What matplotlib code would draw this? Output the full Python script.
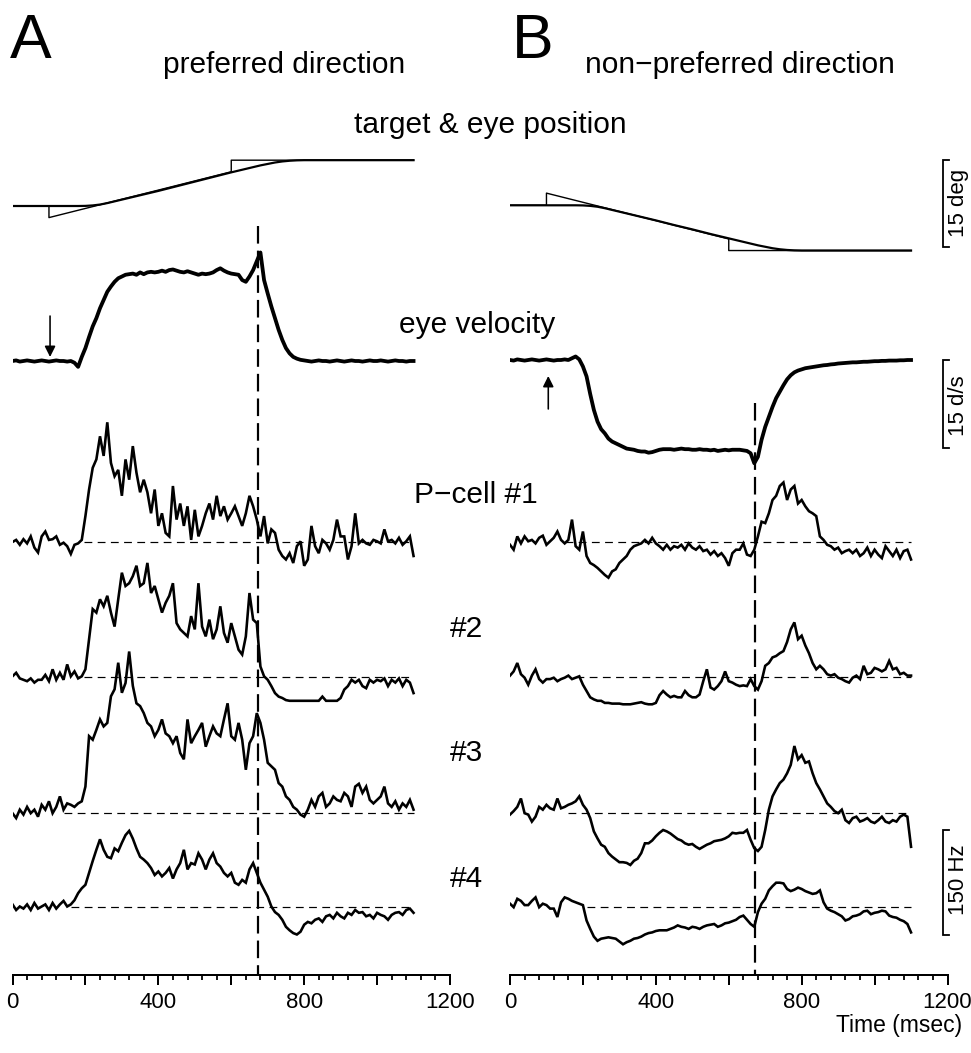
import numpy as np
import matplotlib
matplotlib.use('Agg')
from matplotlib import pyplot as plt

plt.rcParams['font.family'] = ['Liberation Sans', 'DejaVu Sans']

# sample times of the recorded traces (ms)
t = np.arange(0, 1101, 10)

# target and eye position (deg), as breakpoints
tgt_t = [0, 100, 100, 600, 600, 1100]
tgt_pref = [0, 0, -2.0, 5.9, 7.9, 7.9]
tgt_null = [0, 0, 2.1, -5.8, -7.8, -7.8]
eye_t = [0, 180, 200, 220, 240, 260, 280, 300, 350, 400, 450, 500, 550, 600,
         650, 680, 700, 720, 740, 760, 780, 800, 1100]
eye_pref = [0, 0, 0.02, 0.1, 0.25, 0.5, 0.8, 1.1, 1.85, 2.6, 3.4, 4.2, 5.0, 5.8,
            6.55, 7.0, 7.25, 7.5, 7.68, 7.8, 7.87, 7.9, 7.9]
eye_null = [0, 0, -0.02, -0.1, -0.25, -0.5, -0.8, -1.1, -1.85, -2.6, -3.4, -4.15,
            -4.95, -5.7, -6.45, -6.9, -7.15, -7.4, -7.58, -7.7, -7.77, -7.8, -7.8]

# eye velocity (deg/s)
vel_pref = [0, 0.1, -0.1, 0, 0.1, 0, -0.1, 0, 0.1, 0,
            -0.1, 0, 0.1, 0, 0, -0.1, 0, -0.3, -1.0, 0.7,
            2.2, 4.1, 5.9, 7.3, 9.0, 10.4, 11.8, 12.7, 13.5, 14.1,
            14.4, 14.7, 14.8, 14.9, 14.7, 15.1, 14.8, 15.1, 15.2, 15.1,
            15.2, 15.4, 15.2, 15.5, 15.6, 15.4, 15.2, 15.1, 15.3, 15.1,
            14.9, 14.7, 14.9, 14.8, 14.9, 15.1, 15.5, 15.8, 15.4, 15.1,
            14.9, 14.8, 14.7, 13.8, 13.5, 14.4, 15.5, 17.0, 18.5, 13.8,
            11.5, 9.3, 7.3, 5.3, 3.6, 2.2, 1.3, 0.7, 0.4, 0.2,
            0.1, 0, -0.1, 0, 0.1, 0, 0, -0.1, 0, 0.1,
            0, -0.1, 0, 0.1, 0, 0, -0.1, 0, 0.1, 0,
            0, 0.1, 0, -0.1, 0, 0.1, 0, 0, -0.1, 0,
            0]
vel_null = [0, -0.1, 0.1, 0, -0.1, 0, 0.1, 0, -0.1, 0,
            0.1, 0, -0.1, 0, 0, 0.1, 0, 0.3, 0.6, 0.1,
            -1.1, -2.8, -5.8, -8.5, -10.5, -11.8, -12.5, -13.4, -13.9, -14.2,
            -14.5, -14.8, -15.1, -15.2, -15.3, -15.5, -15.6, -15.6, -15.8, -15.7,
            -15.5, -15.3, -15.2, -15.2, -15.2, -15.3, -15.2, -15.1, -15.2, -15.2,
            -15.3, -15.3, -15.2, -15.3, -15.3, -15.4, -15.3, -15.5, -15.4, -15.3,
            -15.4, -15.3, -15.3, -15.3, -15.4, -15.5, -15.9, -17.6, -16.5, -13.6,
            -11.4, -9.7, -8.0, -6.5, -5.4, -4.3, -3.3, -2.6, -2.1, -1.8,
            -1.6, -1.4, -1.3, -1.2, -1.1, -1.0, -0.9, -0.85, -0.75, -0.7,
            -0.6, -0.55, -0.5, -0.45, -0.4, -0.4, -0.35, -0.3, -0.3, -0.25,
            -0.2, -0.2, -0.15, -0.15, -0.1, -0.1, -0.1, -0.05, -0.05, 0,
            0]

# P-cell firing rate, change from resting rate (Hz)
pref1 = [0, 3, -4, 4, -2, 8, -8, -15, 8, 15,
         3, 4, 8, -4, -1, -6, -17, -4, -2, 3,
         37, 75, 106, 118, 151, 123, 171, 113, 94, 103,
         66, 118, 89, 137, 99, 71, 89, 71, 41, 75,
         23, 41, 13, 8, 80, 32, 55, 23, 51, 3,
         46, 8, 23, 41, 55, 32, 66, 37, 51, 32,
         41, 51, 37, 23, 41, 66, 51, 32, 8, 37,
         -2, 18, 13, -11, -20, -25, -16, -30, -6, 1,
         -34, -25, 23, -6, -16, 3, -2, -11, 3, 32,
         8, 8, -25, -6, 41, -2, 3, -2, -4, 3,
         1, -2, 18, 1, 3, -2, 6, -4, 1, 8,
         -20]
pref2 = [1, 6, -2, -4, -6, -2, -8, -4, -4, 3,
         -6, 11, -4, 6, -4, 18, 1, 8, -2, 1,
         11, 54, 97, 92, 111, 101, 116, 92, 72, 111,
         149, 130, 134, 144, 159, 130, 134, 163, 120, 130,
         111, 92, 106, 116, 134, 77, 68, 63, 58, 87,
         68, 134, 72, 58, 82, 54, 68, 101, 63, 49,
         77, 58, 39, 32, 58, 120, 82, 77, 15, 1,
         -4, -13, -23, -28, -30, -33, -34, -34, -34, -34,
         -34, -34, -34, -34, -34, -28, -34, -34, -34, -34,
         -30, -18, -13, -4, -8, -4, -13, -16, -4, -8,
         -4, -6, -2, -13, -4, -8, -2, -13, -4, -8,
         -23]
pref3 = [-1, -8, 4, -3, 8, -1, 4, -6, 11, 4,
         16, -1, 8, 23, 4, 13, 11, 8, 13, 16,
         37, 109, 104, 118, 133, 123, 128, 166, 176, 214,
         171, 185, 230, 181, 156, 152, 142, 128, 123, 109,
         118, 133, 113, 109, 99, 109, 85, 76, 133, 99,
         109, 118, 128, 94, 109, 123, 113, 109, 133, 156,
         109, 104, 128, 104, 61, 99, 109, 142, 128, 104,
         71, 66, 61, 42, 37, 23, 18, 8, 4, -3,
         -6, 4, 18, 8, 23, 28, 8, 13, 23, 18,
         16, 28, 23, 8, 37, 41, 28, 37, 18, 13,
         18, 23, 37, 13, 8, 16, 4, 13, 8, 18,
         4]
pref4 = [3, -5, 0, -3, 3, -5, 5, -3, 0, 3,
         -5, 5, -3, 3, 8, 0, 3, 9, 19, 26,
         31, 48, 65, 81, 96, 81, 71, 69, 83, 79,
         91, 102, 108, 97, 83, 71, 67, 62, 55, 45,
         50, 43, 48, 55, 40, 53, 62, 81, 53, 62,
         60, 76, 67, 53, 67, 76, 62, 57, 48, 43,
         48, 34, 31, 38, 34, 53, 62, 48, 34, 24,
         14, 0, -8, -12, -19, -29, -34, -38, -40, -36,
         -26, -22, -24, -19, -17, -22, -14, -12, -17, -9,
         -14, -17, -9, -12, -5, -9, -8, -14, -12, -17,
         -9, -12, -14, -19, -12, -9, -8, -12, -5, -3,
         -9]
null1 = [-4, -11, 8, -2, 8, 1, 3, -2, 6, 9,
         -4, 1, 6, 15, 3, -2, 3, 32, -6, -11,
         15, -20, -30, -33, -37, -42, -47, -51, -42, -39,
         -30, -25, -20, -11, -6, -4, -2, 3, -2, 6,
         -2, -6, -11, -4, -11, -6, -8, -4, -11, -2,
         -8, -11, -6, -13, -11, -18, -13, -20, -16, -23,
         -34, -16, -11, -11, -2, -18, -20, -11, 8, 29,
         27, 41, 60, 66, 80, 85, 60, 75, 80, 55,
         60, 51, 44, 41, 37, 8, 3, -4, -6, -11,
         -8, -16, -13, -11, -16, -11, -20, -16, -8, -20,
         -11, -18, -23, -6, -13, -20, -11, -23, -13, -11,
         -25]
null2 = [2, 8, 20, 4, -1, -11, 2, 11, -3, -8,
         -3, -3, -1, -6, -3, -1, 2, -3, -1, 1,
         -11, -20, -29, -32, -34, -34, -37, -37, -38, -38,
         -38, -39, -39, -39, -38, -37, -36, -38, -39, -39,
         -37, -26, -20, -25, -29, -27, -29, -29, -20, -26,
         -29, -29, -25, -6, 11, -15, -18, -13, -6, 8,
         -6, -8, -11, -13, -12, -13, -3, -13, -18, -6,
         16, 20, 28, 30, 34, 37, 50, 68, 78, 54,
         59, 45, 34, 20, 11, 16, 11, 4, 2, 4,
         -1, -3, -6, -8, -1, 2, -3, 16, 4, 6,
         13, 11, 8, 11, 23, 11, 13, 4, 6, 2,
         2]
null3 = [-3, 2, 8, 20, -1, -3, -13, -6, 8, 4,
         11, 6, 4, 20, 6, 8, 11, 13, 16, 23,
         11, 4, -8, -27, -37, -46, -49, -58, -63, -67,
         -71, -71, -72, -75, -69, -66, -58, -44, -44, -40,
         -34, -29, -25, -27, -30, -34, -38, -40, -44, -46,
         -45, -49, -52, -49, -46, -44, -41, -40, -39, -37,
         -34, -29, -30, -29, -29, -25, -39, -51, -55, -49,
         -25, 4, 23, 33, 42, 47, 56, 68, 95, 76,
         82, 71, 73, 56, 42, 33, 23, 13, 8, 2,
         -1, 4, -11, -15, -8, -6, -13, -11, -8, -13,
         -15, -11, -6, -13, -15, -11, -13, -6, -3, -6,
         -49]
null4 = [4, -1, 11, 8, 2, 2, 8, 13, -1, 4,
         2, -3, -3, -15, 6, 13, 11, 8, 6, 4,
         2, -20, -32, -43, -49, -46, -45, -44, -45, -46,
         -50, -54, -51, -49, -46, -45, -43, -40, -38, -37,
         -35, -34, -34, -34, -32, -30, -27, -29, -30, -32,
         -29, -30, -32, -29, -27, -26, -25, -29, -27, -24,
         -23, -21, -19, -15, -13, -19, -25, -29, -8, 4,
         11, 23, 29, 34, 34, 33, 25, 22, 24, 27,
         25, 22, 20, 18, 19, 23, 6, -3, -6, -8,
         -11, -14, -20, -18, -14, -13, -11, -7, -6, -11,
         -9, -8, -6, -7, -13, -15, -16, -19, -21, -25,
         -37]

# figure is laid out in pixels, one axes per column (y = pixels from top)
W, H = 971, 1053
PT = 0.72
px_deg = 87 / 15
px_dps = 88 / 15
px_hz = 105 / 150
cell_base = [542, 677, 812.5, 906.5]
sacc_t = 673

fig = plt.figure(figsize=(W / 100, H / 100), dpi=100)

cols = [
    dict(x0=12.5, pos0=206, vel0=361, tgt=tgt_pref, eye=eye_pref, vel=vel_pref,
         cells=[pref1, pref2, pref3, pref4], dash_top=226,
         dash_start=[195, 195, 140, 160], arrow=(103, 316, 357)),
    dict(x0=510, pos0=205.3, vel0=360, tgt=tgt_null, eye=eye_null, vel=vel_null,
         cells=[null1, null2, null3, null4], dash_top=403,
         dash_start=[150, 180, 160, 210], arrow=(105, 409, 376)),
]

axes = []
for c in cols:
    ax = fig.add_axes([c['x0'] / W, 1 - 975 / H, 437.5 / W, 975 / H])
    ax.set_xlim(0, 1200)
    ax.set_ylim(975, 0)
    ax.patch.set_alpha(0)
    for s in ['top', 'left', 'right']:
        ax.spines[s].set_visible(False)
    ax.spines['bottom'].set_linewidth(2 * PT)
    ax.set_yticks([])
    ax.set_xticks(range(0, 1201, 200))
    ax.set_xticklabels(['0', '', '400', '', '800', '', '1200'])
    ax.set_xticks(range(0, 1201, 40), minor=True)
    ax.tick_params(axis='x', which='major', length=10 * PT, width=2 * PT,
                   labelsize=16, pad=5)
    ax.tick_params(axis='x', which='minor', length=5 * PT, width=1.8 * PT)

    # position
    ax.plot(tgt_t, c['pos0'] - np.array(c['tgt']) * px_deg, color='k', lw=1.4 * PT)
    ax.plot(eye_t, c['pos0'] - np.array(c['eye']) * px_deg, color='k', lw=2.2 * PT)

    # velocity
    ax.plot(t, c['vel0'] - np.array(c['vel']) * px_dps, color='k', lw=3.8 * PT,
            solid_joinstyle='round')

    # firing rate
    for base, start, rate in zip(cell_base, c['dash_start'], c['cells']):
        ax.plot([start, 1100], [base, base], color='k', lw=1.2 * PT,
                ls=(0, (6.5, 4.5)))
        ax.plot(t, base - np.array(rate) * px_hz, color='k', lw=2.6 * PT,
                solid_joinstyle='miter')

    ax.plot([sacc_t, sacc_t], [c['dash_top'], 975], color='k', lw=2.2 * PT,
            ls=(0, (8, 3.2)))

    at, ay0, ay1 = c['arrow']
    ax.annotate('', xy=(at, ay1), xytext=(at, ay0),
                arrowprops=dict(arrowstyle='-|>', color='k', lw=1.6 * PT,
                                mutation_scale=16, shrinkA=0, shrinkB=0))
    axes.append(ax)

# scale bars (right column)
axr = axes[1]
bx0, bx1 = (942.5 - 510) / 437.5 * 1200, (948.5 - 510) / 437.5 * 1200
for top, length in [(160, 15 * px_deg), (360, 15 * px_dps), (830, 150 * px_hz)]:
    axr.plot([bx1, bx0, bx0, bx1], [top, top, top + length, top + length],
             color='k', lw=1.8 * PT, clip_on=False, solid_joinstyle='miter')


def ftext(x, y, s, **kw):
    fig.text(x / W, 1 - y / H, s, **kw)


ftext(10, 58, 'A', fontsize=45, va='baseline')
ftext(512, 58, 'B', fontsize=45, va='baseline')
ftext(163, 73, 'preferred direction', fontsize=21.5, va='baseline')
ftext(585, 73, 'non\u2212preferred direction', fontsize=21.5, va='baseline')
ftext(490, 133, 'target & eye position', fontsize=21.5, va='baseline', ha='center')
ftext(399, 333, 'eye velocity', fontsize=21.5, va='baseline')
ftext(414, 503, 'P\u2212cell #1', fontsize=21.5, va='baseline')
ftext(450, 637, '#2', fontsize=21.5, va='baseline')
ftext(450, 761, '#3', fontsize=21.5, va='baseline')
ftext(450, 887, '#4', fontsize=21.5, va='baseline')
ftext(962, 1032, 'Time (msec)', fontsize=16.5, va='baseline', ha='right')
ftext(958, 203, '15 deg', fontsize=16, rotation=90, ha='center', va='center')
ftext(958, 406, '15 d/s', fontsize=16, rotation=90, ha='center', va='center')
ftext(958, 880, '150 Hz', fontsize=16, rotation=90, ha='center', va='center')

fig.savefig('out.png', dpi=100, facecolor='white')
